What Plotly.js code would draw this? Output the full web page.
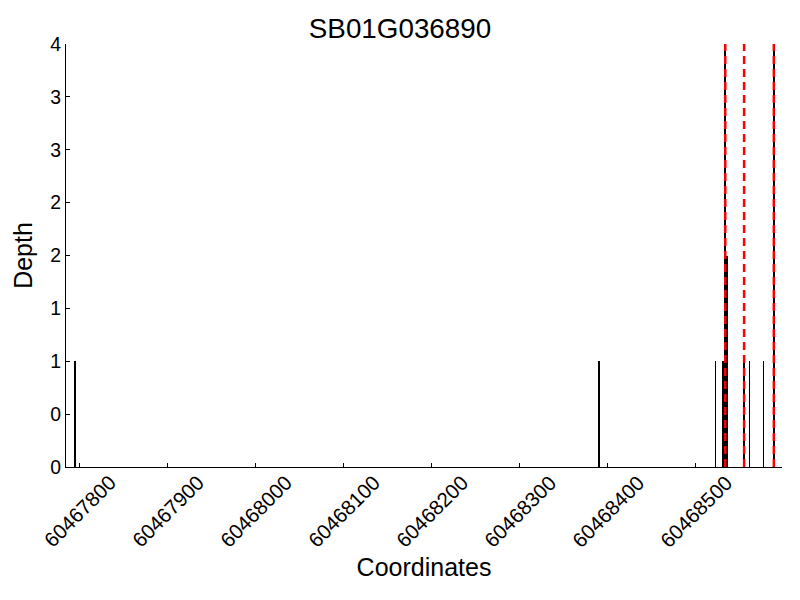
<!DOCTYPE html>
<html><head><meta charset="utf-8">
<script src="https://cdn.plot.ly/plotly-3.0.1.min.js"></script>
<style>body{margin:0;padding:0;}#chart{width:800px;height:600px;}</style>
</head><body><div id="chart"></div>
<script>
// Data
const positions = [60467795, 60468390, 60468522.5, 60468531, 60468533.8, 60468535.4, 60468555, 60468560.7, 60468577.3, 60468588.7];
const depths    = [1, 1, 1, 1, 4, 2, 1, 1, 1, 4];
const barWidths = [2.2, 2.2, 2.2, 2.2, 2.2, 2.2, 2.2, 1.2, 1.2, 2.2];
const boundaries = [60468533.6, 60468555, 60468588.7];
const yTickVals = [0, 0.5, 1, 1.5, 2, 2.5, 3, 3.5, 4];
const yTickText = ["0", "0", "1", "1", "2", "2", "3", "3", "4"];
const xTickVals = [60467800, 60467900, 60468000, 60468100, 60468200, 60468300, 60468400, 60468500];
const xTickText = ["60467800", "60467900", "60468000", "60468100", "60468200", "60468300", "60468400", "60468500"];

const traces = [{
  type: 'bar', x: positions, y: depths, width: barWidths,
  marker: {color: 'black', line: {width: 0}}, hoverinfo: 'x+y'
}];
boundaries.forEach(b => {
  traces.push({type: 'scatter', mode: 'lines', x: [b, b], y: [0, 4],
    line: {color: 'red', width: 2.5, dash: '8px,5px'}, hoverinfo: 'skip'});
});

const font = 'Liberation Sans, Arial, sans-serif';
// Rotated tick labels centred on their ticks (matplotlib style)
const annotations = xTickVals.map((v, i) => ({
  x: v, xref: 'x', y: 0, yref: 'paper', yshift: -44,
  text: xTickText[i], showarrow: false, textangle: -45,
  xanchor: 'center', yanchor: 'middle',
  font: {size: 20.5, family: font, color: 'black'}
}));

const layout = {
  width: 800, height: 600,
  margin: {l: 66, r: 18, t: 44, b: 133},
  paper_bgcolor: 'white', plot_bgcolor: 'white',
  showlegend: false, bargap: 0,
  font: {family: font, color: 'black'},
  title: {text: 'SB01G036890', font: {size: 27.8, family: font, color: 'black'}, x: 0.5, xanchor: 'center', y: 0.953, yanchor: 'middle'},
  annotations: annotations,
  xaxis: {
    range: [60467785.2, 60468598], showgrid: false, zeroline: false,
    showline: true, linecolor: 'black', linewidth: 1,
    ticks: 'inside', ticklen: 4, tickcolor: 'black',
    tickvals: xTickVals, showticklabels: false,
    title: {text: 'Coordinates', font: {size: 25, family: font}, standoff: 91}
  },
  yaxis: {
    range: [0, 4], showgrid: false, zeroline: false,
    showline: true, linecolor: 'black', linewidth: 1,
    ticks: 'inside', ticklen: 4, tickcolor: 'black',
    tickvals: yTickVals, ticktext: yTickText,
    tickfont: {size: 19.4, family: font},
    title: {text: 'Depth', font: {size: 25, family: font}, standoff: 10}
  }
};
Plotly.newPlot('chart', traces, layout, {displayModeBar: false, staticPlot: true});
</script></body></html>
